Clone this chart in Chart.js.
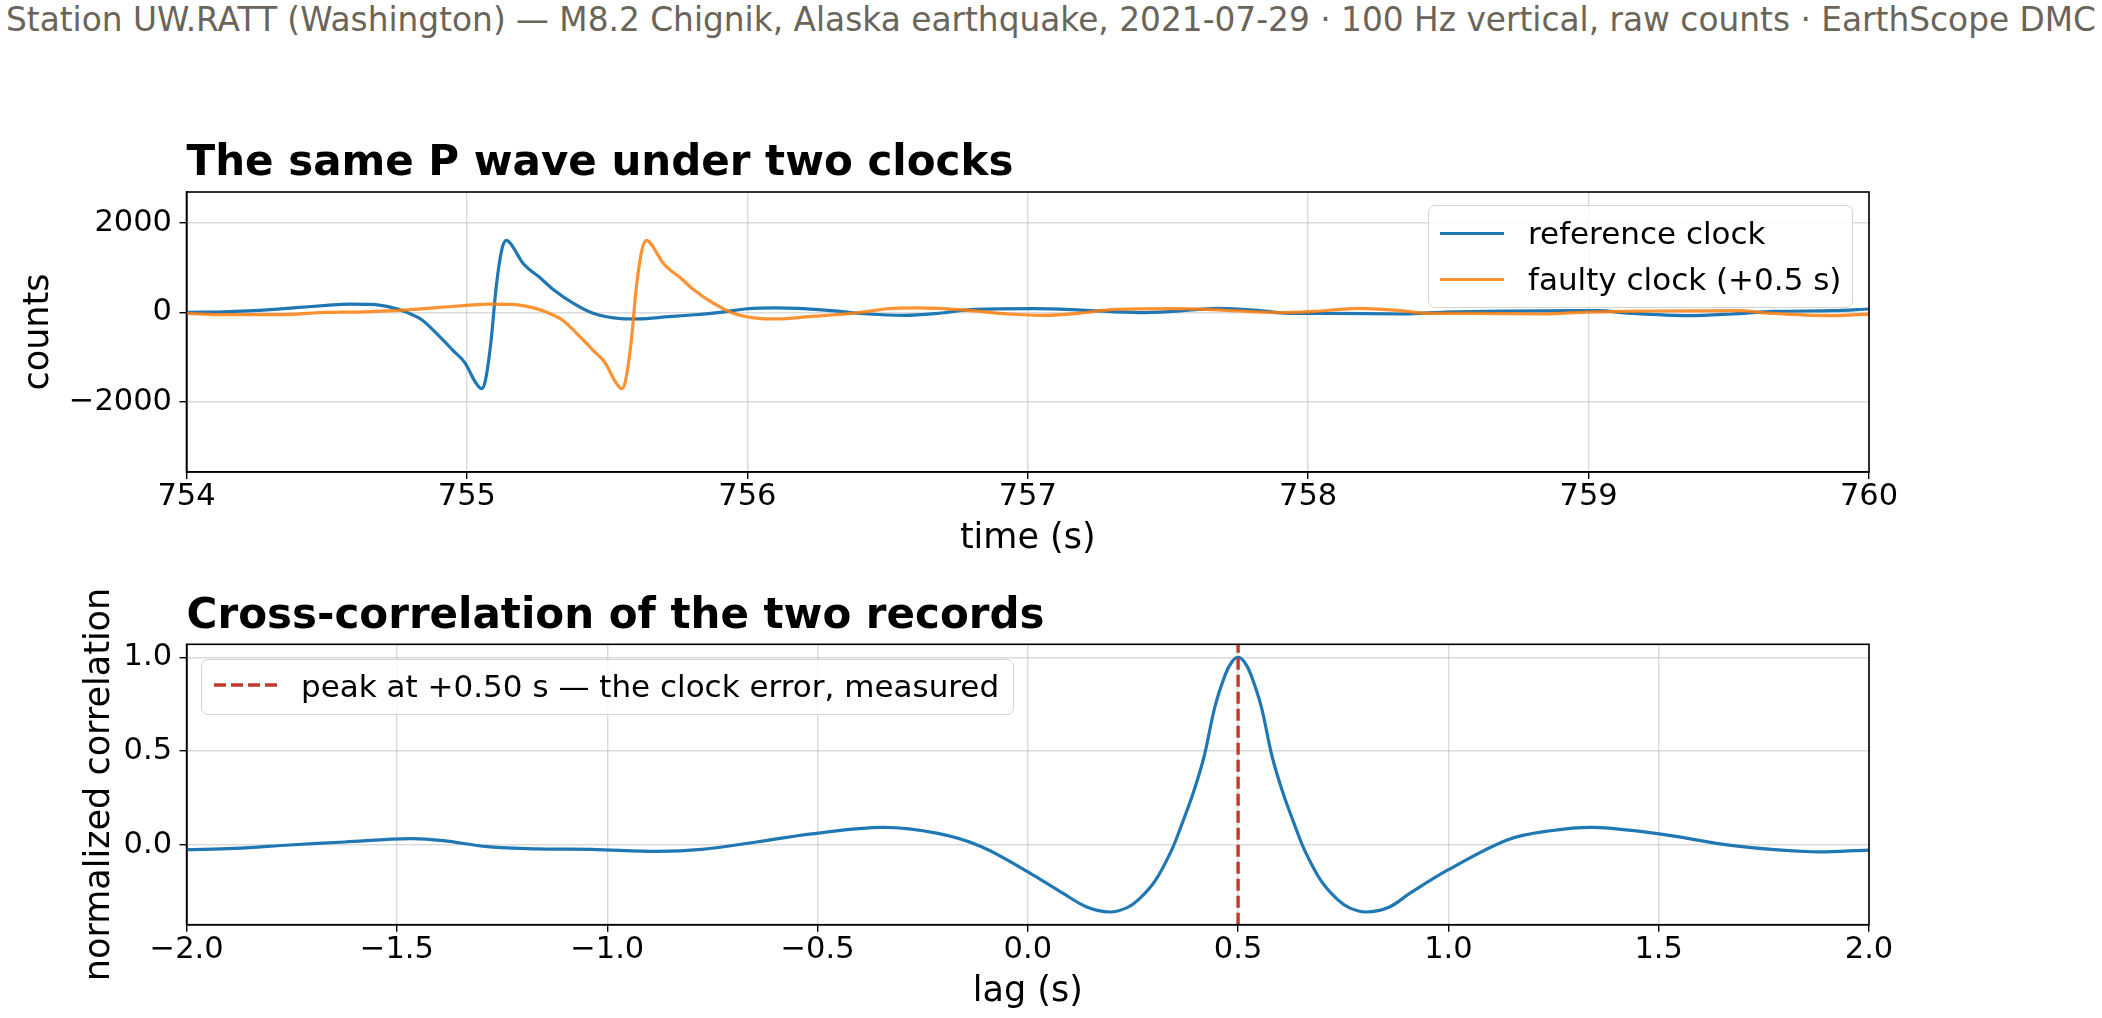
<!DOCTYPE html>
<html>
<head>
<meta charset="utf-8">
<title>Clock error from cross-correlation</title>
<script src="https://cdn.jsdelivr.net/npm/chart.js@4.4.1/dist/chart.umd.min.js"></script>
<style>
  html, body { margin: 0; padding: 0; background: #fff; }
  body { width: 2102px; height: 1018px; position: relative; overflow: hidden; font-family: 'DejaVu Sans', sans-serif; }
  #suptitle { position: absolute; left: 0; top: 4px; width: 2102px; text-align: center; font-size: 32.8px; line-height: 32px; color: #6b6459; white-space: nowrap; }
  .panel { position: absolute; left: 0; width: 2102px; }
  .legend { position: absolute; box-sizing: border-box; background: rgba(255,255,255,0.8); border: 1.5px solid #d4d4d4; border-radius: 7px; font-size: 31px; color: #000; }
  .row { position: absolute; height: 40px; line-height: 40px; white-space: nowrap; }
  .swatch { position: absolute; height: 0; }
</style>
</head>
<body>
<div id="suptitle">Station UW.RATT (Washington) — M8.2 Chignik, Alaska earthquake, 2021-07-29 · 100 Hz vertical, raw counts · EarthScope DMC</div>

<div class="panel" style="top:130px;height:440px"><canvas id="waves"></canvas></div>
<div class="panel" style="top:580px;height:438px"><canvas id="xcorr"></canvas></div>

<div class="legend" style="left:1428px;top:205px;width:425px;height:103px">
  <div class="swatch" style="left:11px;top:25.5px;width:64px;border-top:3.2px solid #1f77b4"></div>
  <div class="row" style="left:99px;top:7px">reference clock</div>
  <div class="swatch" style="left:11px;top:71.5px;width:64px;border-top:3.2px solid rgba(255,127,14,0.85)"></div>
  <div class="row" style="left:99px;top:53px">faulty clock (+0.5 s)</div>
</div>

<div class="legend" style="left:201px;top:659px;width:813px;height:56px">
  <svg style="position:absolute;left:12px;top:22px" width="63" height="6"><line x1="0" y1="3" x2="63" y2="3" stroke="#c0392b" stroke-width="3.4" stroke-dasharray="12,5"/></svg>
  <div class="row" style="left:99px;top:6px">peak at +0.50 s — the clock error, measured</div>
</div>

<script>
// reference-clock record, vertical counts
const refTime = [753.50, 753.61, 753.75, 753.87, 754.00, 754.11, 754.24, 754.39, 754.50, 754.58,
  754.66, 754.73, 754.78, 754.84, 754.91, 754.95, 754.993, 755.03, 755.052, 755.065,
  755.085, 755.105, 755.125, 755.141, 755.158, 755.20, 755.26, 755.31, 755.38, 755.45,
  755.55, 755.61, 755.72, 755.80, 755.91, 756.00, 756.10, 756.18, 756.30, 756.43,
  756.56, 756.68, 756.81, 757.02, 757.19, 757.40, 757.52, 757.68, 757.83, 757.93,
  758.08, 758.34, 758.49, 758.72, 759.03, 759.15, 759.36, 759.51, 759.66, 759.87, 760.00];
const refCounts = [-22, -50, -52, -44, 0, 7, 37, 104, 156, 185,
  178, 111, 15, -170, -590, -850, -1130, -1560, -1710, -1550,
  -700, 600, 1420, 1610, 1520, 1100, 780, 500, 200, -22,
  -141, -148, -96, -59, 7, 81, 100, 90, 37, -37,
  -67, -22, 67, 82, 52, -7, 22, 90, 37, -22,
  -22, -37, 7, 30, 37, -22, -75, -37, 22, 37, 75];

// the faulty clock stamps the same samples half a second late
const clockError = 0.5;
const faultyTime = refTime.map(t => t + clockError);

// normalized cross-correlation vs lag
const lagSeconds = [-2.0, -1.885, -1.755, -1.624, -1.467, -1.39, -1.285, -1.167, -1.037, -0.88,
  -0.775, -0.645, -0.514, -0.345, -0.214, -0.11, 0.006, 0.084, 0.14, 0.195,
  0.235, 0.264, 0.303, 0.342, 0.367, 0.393, 0.419, 0.445, 0.47, 0.485,
  0.5, 0.515, 0.53, 0.555, 0.581, 0.607, 0.633, 0.658, 0.697, 0.736,
  0.765, 0.805, 0.86, 0.908, 0.999, 1.14, 1.243, 1.347, 1.501, 1.682,
  1.862, 2.0];
const correlation = [-0.025, -0.018, 0.0, 0.016, 0.034, 0.023, -0.009, -0.021, -0.023, -0.034,
  -0.023, 0.016, 0.059, 0.094, 0.062, -0.009, -0.151, -0.258, -0.33, -0.357,
  -0.335, -0.29, -0.19, -0.027, 0.115, 0.275, 0.47, 0.737, 0.91, 0.975,
  1.0, 0.975, 0.91, 0.737, 0.47, 0.275, 0.115, -0.027, -0.19, -0.29,
  -0.335, -0.357, -0.33, -0.258, -0.133, 0.027, 0.076, 0.094, 0.059, -0.005,
  -0.036, -0.027];
const peakLag = 0.5;

// axis limits and ticks
const timeLimits = [754, 760];
const countLimits = [-3575, 2695];
const lagLimits = [-2, 2];
const corrLimits = [-0.4246, 1.069];
const timeTicks = [754, 755, 756, 757, 758, 759, 760];
const countTicks = [-2000, 0, 2000];
const lagTicks = [-2.0, -1.5, -1.0, -0.5, 0.0, 0.5, 1.0, 1.5, 2.0];
const corrTicks = [0.0, 0.5, 1.0];

const FONT = "'DejaVu Sans', sans-serif";
const minus = s => s.replace('-', '\u2212');

// matplotlib-style box around the plotting area
const frame = {
  id: 'frame',
  afterDraw(chart) {
    const { ctx, chartArea: a } = chart;
    ctx.save();
    ctx.strokeStyle = '#000';
    ctx.lineWidth = 1.6;
    ctx.strokeRect(a.left, a.top, a.right - a.left, a.bottom - a.top);
    ctx.restore();
  }
};

function axis(opts) {
  return {
    type: 'linear',
    min: opts.limits[0],
    max: opts.limits[1],
    afterBuildTicks: s => { s.ticks = opts.ticks.map(v => ({ value: v })); },
    afterFit: s => { if (opts.width) s.width = opts.width; if (opts.height) s.height = opts.height; },
    grid: { color: 'rgba(176,176,176,0.45)', lineWidth: 1.4, tickColor: '#000', tickLength: 7, tickWidth: 1.4 },
    border: { display: true, color: '#000', width: 1.6 },
    ticks: {
      color: '#000',
      font: { family: FONT, size: 30.5 },
      padding: opts.pad,
      maxRotation: 0,
      autoSkip: false,
      callback: opts.fmt
    },
    title: {
      display: true,
      text: opts.title,
      color: '#000',
      font: { family: FONT, size: 35 },
      padding: opts.titlePad
    }
  };
}

function titleOpts(text, padTop, padBottom) {
  return {
    display: true, text, align: 'start', fullSize: false, color: '#000',
    font: { family: FONT, size: 42, weight: 'bold' },
    padding: { top: padTop, bottom: padBottom }
  };
}

new Chart(document.getElementById('waves'), {
  type: 'line',
  data: {
    datasets: [
      {
        label: 'reference clock',
        data: refTime.map((t, i) => ({ x: t, y: refCounts[i] })),
        borderColor: '#1f77b4', borderWidth: 3.2, pointRadius: 0,
        cubicInterpolationMode: 'monotone', order: 1
      },
      {
        label: 'faulty clock (+0.5 s)',
        data: faultyTime.map((t, i) => ({ x: t, y: refCounts[i] })),
        borderColor: 'rgba(255,127,14,0.85)', borderWidth: 3.2, pointRadius: 0,
        cubicInterpolationMode: 'monotone', order: 0
      }
    ]
  },
  options: {
    responsive: true, maintainAspectRatio: false, animation: false,
    layout: { padding: { left: 0, right: 233, top: 0, bottom: 0 } },
    scales: {
      x: axis({ limits: timeLimits, ticks: timeTicks, fmt: v => String(v), pad: 0,
                height: 98, title: 'time (s)', titlePad: { top: 0, bottom: 10.5 } }),
      y: axis({ limits: countLimits, ticks: countTicks, fmt: v => minus(String(v)), pad: 7.5,
                width: 186.5, title: 'counts', titlePad: { top: 18, bottom: 0 } })
    },
    plugins: {
      legend: { display: false },
      tooltip: { enabled: false },
      title: titleOpts('The same P wave under two clocks', 8.8, 2.8)
    }
  },
  plugins: [frame]
});

new Chart(document.getElementById('xcorr'), {
  type: 'line',
  data: {
    datasets: [
      {
        label: 'cross-correlation',
        data: lagSeconds.map((l, i) => ({ x: l, y: correlation[i] })),
        borderColor: '#1f77b4', borderWidth: 3.2, pointRadius: 0,
        tension: 0.35, order: 1
      },
      {
        label: 'peak at +0.50 s — the clock error, measured',
        data: corrLimits.map(c => ({ x: peakLag, y: c })),
        borderColor: '#c0392b', borderWidth: 3.4, borderDash: [12, 5], pointRadius: 0, order: 0
      }
    ]
  },
  options: {
    responsive: true, maintainAspectRatio: false, animation: false,
    layout: { padding: { left: 0, right: 233, top: 0, bottom: 0 } },
    scales: {
      x: axis({ limits: lagLimits, ticks: lagTicks, fmt: v => minus(v.toFixed(1)), pad: 0,
                height: 93.3, title: 'lag (s)', titlePad: { top: 0, bottom: 5 } }),
      y: axis({ limits: corrLimits, ticks: corrTicks, fmt: v => minus(v.toFixed(1)), pad: 7.5,
                width: 186.6, title: 'normalized correlation', titlePad: { top: 79, bottom: 0 } })
    },
    plugins: {
      legend: { display: false },
      tooltip: { enabled: false },
      title: titleOpts('Cross-correlation of the two records', 12.3, 1.6)
    }
  },
  plugins: [frame]
});
</script>
</body>
</html>
